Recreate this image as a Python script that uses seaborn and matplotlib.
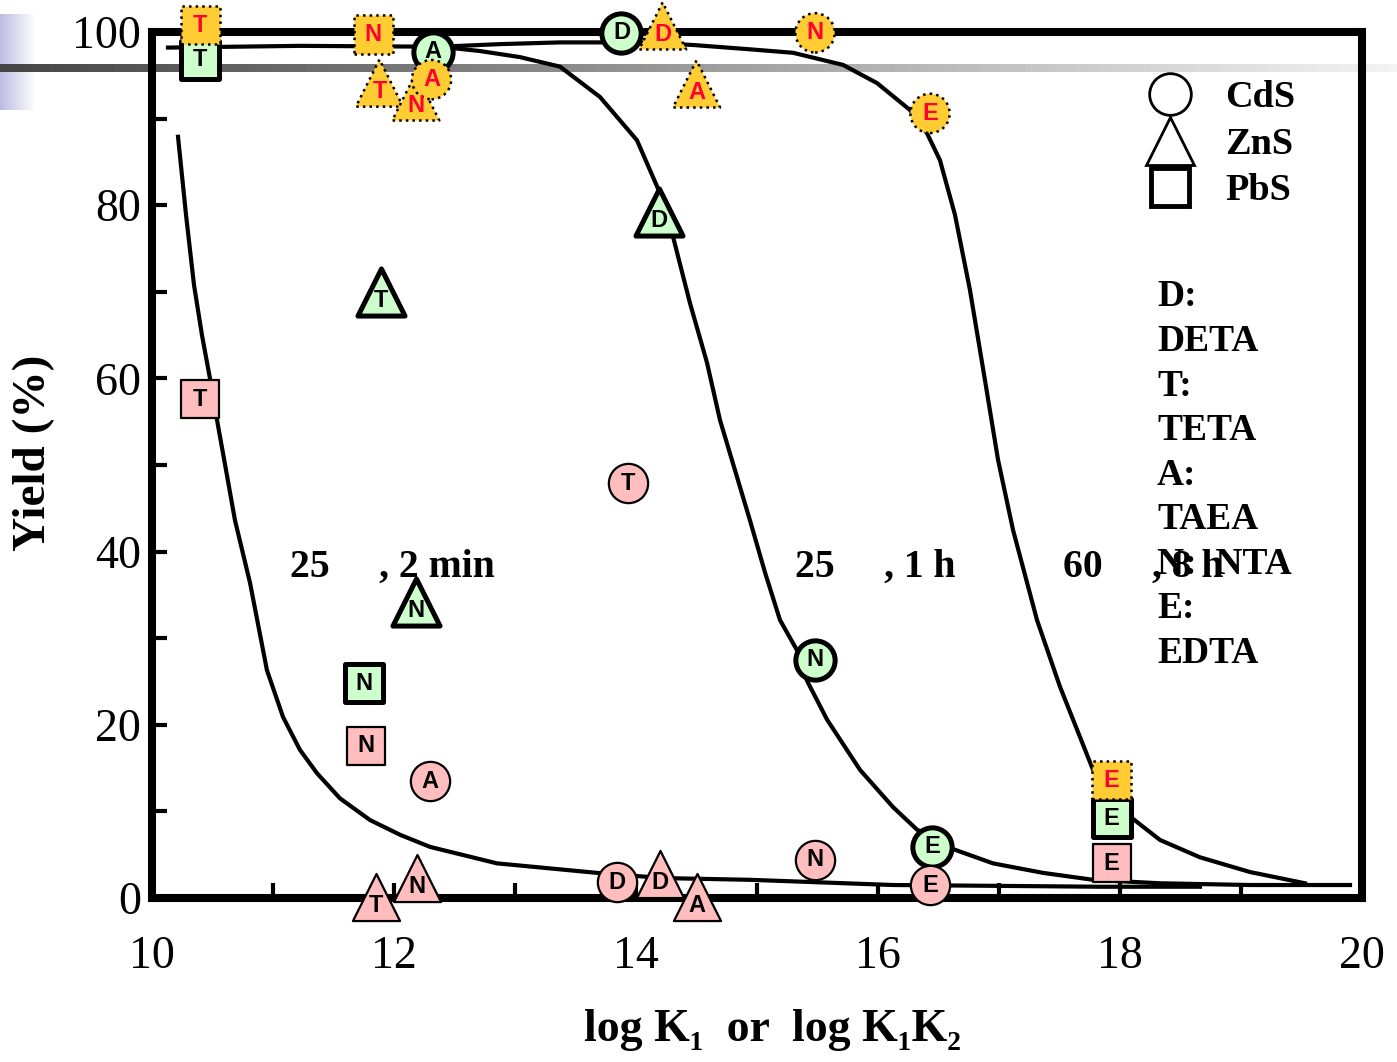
import matplotlib
matplotlib.use("Agg")
import matplotlib.pyplot as plt
from matplotlib.lines import Line2D
import numpy as np
import pandas as pd
import seaborn as sns

# ---- fitted curves ----
c2min_x = [10.215, 10.281, 10.347, 10.413, 10.479, 10.545, 10.612, 10.686, 10.810, 10.950,
           11.083, 11.223, 11.364, 11.554, 11.802, 12.050, 12.298, 12.851, 13.678, 14.223,
           14.942, 16.124, 17.008, 17.835, 18.661]
c2min_y = [87.9, 78.9, 70.8, 65.0, 60.0, 54.6, 49.4, 43.6, 36.4, 26.3,
           20.9, 17.1, 14.4, 11.5, 9.0, 7.3, 5.9, 4.0, 2.9, 2.3,
           2.1, 1.5, 1.4, 1.3, 1.3]

c1h_x = [10.132, 11.223, 12.380, 12.711, 13.041, 13.372, 13.702, 14.008, 14.198, 14.298,
         14.446, 14.587, 14.694, 14.818, 14.942, 15.066, 15.190, 15.331, 15.413, 15.579,
         15.851, 16.124, 16.322, 16.570, 16.950, 17.364, 17.777, 18.331, 19.074, 19.901]
c1h_y = [98.2, 98.4, 98.3, 97.8, 97.1, 96.0, 92.5, 87.5, 81.4, 76.8,
         68.7, 61.8, 55.2, 49.4, 43.6, 37.6, 32.1, 28.6, 25.1, 20.6,
         14.8, 10.5, 7.9, 5.9, 4.0, 2.9, 2.1, 1.7, 1.5, 1.5]

c8h_x = [12.380, 12.876, 13.372, 14.033, 14.471, 14.942, 15.298, 15.711, 15.992, 16.264,
         16.405, 16.512, 16.636, 16.760, 16.884, 16.992, 17.116, 17.314, 17.504, 17.777,
         18.083, 18.331, 18.661, 19.074, 19.529]
c8h_y = [98.3, 98.6, 98.8, 98.8, 98.5, 98.0, 97.6, 96.2, 94.1, 91.0,
         88.3, 85.2, 78.9, 70.2, 59.8, 50.6, 42.5, 32.1, 24.4, 14.8,
         9.4, 6.7, 4.7, 3.0, 1.7]

# ---- measured points ----
# 25 C, 2 min
min2_x = [10.40, 13.93, 11.77, 12.30, 11.85, 12.19, 13.84, 14.20, 14.50, 15.48, 16.43, 17.93]
min2_y = [57.6, 47.9, 17.6, 13.5, 0.1, 2.3, 1.8, 2.8, 0.1, 4.4, 1.5, 4.0]
min2_salt = ['PbS', 'CdS', 'PbS', 'CdS', 'ZnS', 'ZnS', 'CdS', 'ZnS', 'ZnS', 'CdS', 'CdS', 'PbS']
min2_lig = ['T', 'T', 'N', 'A', 'T', 'N', 'D', 'D', 'A', 'N', 'E', 'E']

# 25 C, 1 h
h1_x = [10.40, 12.32, 13.88, 11.89, 14.19, 12.18, 11.75, 15.48, 16.45, 17.93]
h1_y = [96.8, 97.7, 99.9, 70.0, 79.2, 34.2, 24.8, 27.5, 5.9, 9.2]
h1_salt = ['PbS', 'CdS', 'CdS', 'ZnS', 'ZnS', 'ZnS', 'PbS', 'CdS', 'CdS', 'PbS']
h1_lig = ['T', 'A', 'D', 'T', 'D', 'N', 'N', 'N', 'E', 'E']

# 60 C, 8 h
h8_x = [10.40, 11.83, 11.88, 12.18, 12.31, 14.22, 14.50, 15.48, 16.43, 17.93]
h8_y = [100.8, 99.7, 94.1, 92.5, 94.5, 100.7, 94.0, 99.9, 90.6, 13.6]
h8_salt = ['PbS', 'PbS', 'ZnS', 'ZnS', 'CdS', 'ZnS', 'ZnS', 'CdS', 'CdS', 'PbS']
h8_lig = ['T', 'N', 'T', 'N', 'A', 'D', 'A', 'N', 'E', 'E']

legend_salts = ['CdS', 'ZnS', 'PbS']
ligand_key = ['D:', 'DETA', 'T:', 'TETA', 'A:', 'TAEA', 'N:  NTA', 'E:', 'EDTA']
xticks = [10, 12, 14, 16, 18, 20]
yticks = [0, 20, 40, 60, 80, 100]

plt.rcParams['font.family'] = ['Liberation Serif', 'DejaVu Serif']

fig = plt.figure(figsize=(13.97, 10.62), dpi=100)

# slide decoration behind the chart
bg = fig.add_axes([0, 0, 1, 1], zorder=0)
bg.set_xlim(0, 1397)
bg.set_ylim(1062, 0)
bg.axis('off')
t = np.linspace(0, 1, 64)
blue = np.ones((1, 64, 3))
blue[0, :, 0] = 0.74 + 0.26 * t
blue[0, :, 1] = 0.74 + 0.26 * t
blue[0, :, 2] = 0.89 + 0.11 * t
bg.imshow(blue, extent=(0, 36, 110, 14), aspect='auto')
grad = np.linspace(0.27, 0.95, 256)[None, :]
bg.imshow(grad, cmap='gray', vmin=0, vmax=1, extent=(0, 1397, 72, 64), aspect='auto')

ax = fig.add_axes([152 / 1397, 1 - 898 / 1062, 1210 / 1397, 866 / 1062], zorder=1)
ax.set_facecolor('none')

for cx, cy in [(c2min_x, c2min_y), (c1h_x, c1h_y), (c8h_x, c8h_y)]:
    sns.lineplot(x=cx, y=cy, ax=ax, color='black', lw=3, sort=False, estimator=None, zorder=2)

shape_marker = {'CdS': 'o', 'ZnS': '^', 'PbS': 's'}
shape_size = {'CdS': 800, 'ZnS': 1150, 'PbS': 760}

groups = [
    (h1_x, h1_y, h1_salt, h1_lig, '#CCFFCC', 3.6, '-', 'black'),
    (h8_x, h8_y, h8_salt, h8_lig, '#FFCC33', 1.8, ':', '#FF0033'),
    (min2_x, min2_y, min2_salt, min2_lig, '#FFBDBD', 1.6, '-', 'black'),
]
z = 3
for gx, gy, gs, gl, fc, lw, ls, tc in groups:
    df = pd.DataFrame({'x': gx, 'y': gy, 'salt': gs, 'lig': gl})
    for salt in ['PbS', 'ZnS', 'CdS']:
        sub = df[df['salt'] == salt]
        if sub.empty:
            continue
        sns.scatterplot(data=sub, x='x', y='y', ax=ax, marker=shape_marker[salt],
                        s=shape_size[salt], color=fc, edgecolor='black', linewidth=lw,
                        linestyle=ls, clip_on=False, zorder=z, legend=False)
    for x, y, s, l in zip(gx, gy, gs, gl):
        dy = -6 if s == 'ZnS' else 0
        ax.annotate(l, (x, y), xytext=(0, dy), textcoords='offset points', ha='center',
                    va='center', fontsize=17, fontweight='bold', family='Liberation Sans',
                    color=tc, zorder=z + 1, annotation_clip=False)
    z += 2

# condition labels
for xt, txt in [(11.14, '25     , 2 min'), (15.31, '25     , 1 h'), (17.53, '60     , 8 h')]:
    ax.text(xt, 38.2, txt, ha='left', va='center', fontsize=28.5, fontweight='bold')

# salt legend
handles = [Line2D([], [], ls='', marker='o', ms=30, mfc='none', mec='black', mew=2),
           Line2D([], [], ls='', marker='^', ms=34, mfc='none', mec='black', mew=2),
           Line2D([], [], ls='', marker='s', ms=27, mfc='none', mec='black', mew=3.5)]
ax.legend(handles, legend_salts, loc='upper left', bbox_to_anchor=(0.822, 0.944),
          frameon=False, prop={'family': 'Liberation Serif', 'weight': 'bold', 'size': 27.5},
          handlelength=1.2, handletextpad=0.85, labelspacing=0.3, borderpad=0, borderaxespad=0)

for i, line in enumerate(ligand_key):
    ax.text(0.8306, 0.694 - i * 0.0514, line, transform=ax.transAxes, ha='left',
            va='center', fontsize=27, fontweight='bold')

ax.set_xlim(10, 20)
ax.set_ylim(0, 100)
ax.set_xticks(xticks)
ax.set_xticks([11, 13, 15, 17, 19], minor=True)
ax.set_yticks(yticks)
ax.set_yticks([10, 30, 50, 70, 90], minor=True)
ax.tick_params(which='both', direction='in', width=3, length=11, top=False, right=False)
ax.tick_params(axis='x', which='major', labelsize=33, pad=27)
ax.tick_params(axis='y', which='major', labelsize=33, pad=8)
for sp in ax.spines.values():
    sp.set_linewidth(5.8)
    sp.set_zorder(2.5)

ax.set_xlabel('log K\u2081  or  log K\u2081K\u2082', fontsize=33, fontweight='bold')
ax.xaxis.set_label_coords(0.513, -0.128)
ax.set_ylabel('Yield (%)', fontsize=34, fontweight='bold')
ax.yaxis.set_label_coords(-0.080, 0.514)

fig.savefig('out.png', dpi=100)
